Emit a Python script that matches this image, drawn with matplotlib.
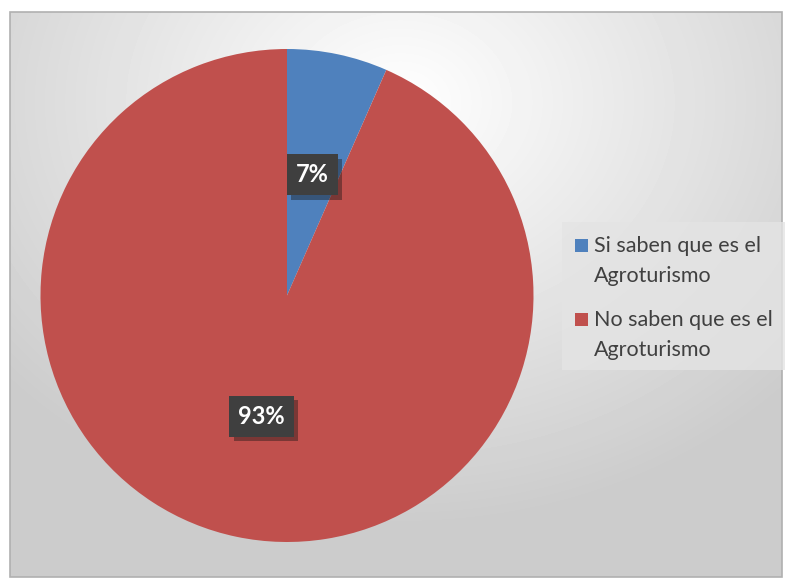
import numpy as np
import matplotlib
matplotlib.use("Agg")
import matplotlib.pyplot as plt
import matplotlib.patheffects as pe
from matplotlib.patches import Rectangle

# data (slice sizes, labels shown rounded)
categories = ["Si saben que es el\nAgroturismo", "No saben que es el\nAgroturismo"]
values = [6.6, 93.4]
colors = ["#4F81BD", "#C0504D"]

plt.rcParams['font.family'] = ['Lato', 'DejaVu Sans']

W, H = 792, 578
fig = plt.figure(figsize=(W / 100, H / 100), dpi=100)
fig.patch.set_facecolor("white")

def fx(px):
    return px / W

def fy(py):
    return 1 - py / H

# background with radial gradient (chart area)
bg = fig.add_axes([fx(10), fy(577), fx(772), 565 / H])
yy, xx = np.mgrid[0:565, 0:772]
dist = np.sqrt(((xx - 390) / 520.0) ** 2 + ((yy - 90) / 420.0) ** 2)
shade = 1.0 - 0.2 * np.clip(dist, 0, 1)
bg.imshow(shade, cmap="gray", vmin=0, vmax=1, aspect="auto", interpolation="bilinear")
bg.set_axis_off()
fig.patches.append(Rectangle((fx(10), fy(577)), fx(772), 565 / H,
                             transform=fig.transFigure, fill=False,
                             edgecolor="#b0b0b0", linewidth=1.2))

# pie
r = 246.5
ax = fig.add_axes([fx(287 - r), fy(295.5 + r), 2 * r / W, 2 * r / H])
wedges, texts, autotexts = ax.pie(values, colors=colors, startangle=90, counterclock=False,
                                  autopct=lambda p: f"{p:.0f}%", pctdistance=0.5,
                                  wedgeprops=dict(linewidth=0))
ax.set_aspect("equal")
ax.set_xlim(-1, 1)
ax.set_ylim(-1, 1)

for t in autotexts:
    t.set_color("white")
    t.set_fontsize(17)
    t.set_fontweight("bold")
    t.set_bbox(dict(boxstyle="square,pad=0.38", facecolor="#3f3f3f", edgecolor="none"))
    t.get_bbox_patch().set_path_effects([pe.SimplePatchShadow(offset=(3, -3), alpha=0.4), pe.Normal()])

# legend (drawn by hand so the markers sit on the first line)
fig.patches.append(Rectangle((fx(562), fy(370)), fx(785 - 562), 148 / H,
                             transform=fig.transFigure, facecolor="#e4e4e4",
                             edgecolor="none", alpha=0.8))
first_baselines = [252, 326]
for label, col, base in zip(categories, colors, first_baselines):
    fig.patches.append(Rectangle((fx(575), fy(base)), fx(13), 13 / H,
                                 transform=fig.transFigure, facecolor=col, edgecolor="none"))
    for i, line in enumerate(label.split("\n")):
        fig.text(fx(594), fy(base + 30 * i), line, fontsize=15.5, color="#404040",
                 ha="left", va="baseline")

plt.savefig("out.png", dpi=100)
